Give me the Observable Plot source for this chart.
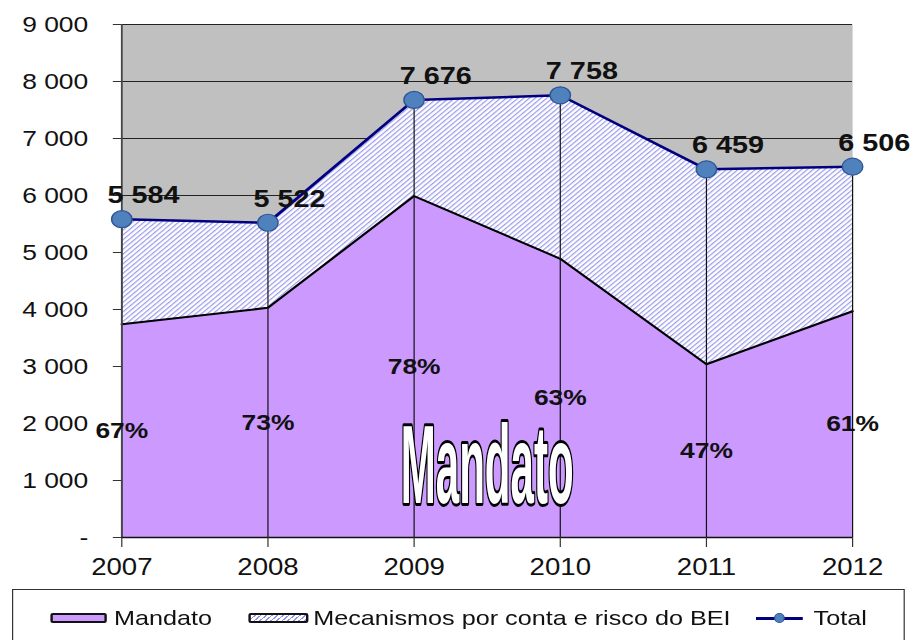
<!DOCTYPE html>
<html>
<head>
<meta charset="utf-8">
<script src="https://cdn.jsdelivr.net/npm/d3@7"></script>
<script src="https://cdn.jsdelivr.net/npm/@observablehq/plot@0.6"></script>
<style>
  html, body { margin: 0; padding: 0; background: #fff; overflow: hidden; }
  #wrap { position: relative; width: 762px; height: 640px; transform: scaleX(1.2); transform-origin: 0 0; font-family: "Liberation Sans", Arial, sans-serif; }
  #legend { position: absolute; left: 10px; top: 589px; width: 744px; height: 70px; border: 1.5px solid #333; box-sizing: border-box; }
  .lg-text { position: absolute; top: 16px; font-size: 21px; color: #111; white-space: nowrap; line-height: 24px; }
  .sw { position: absolute; top: 23px; height: 10px; border: 2px solid #111; border-radius: 2px; box-sizing: border-box; }
</style>
</head>
<body>
<div id="wrap">
  <div id="chart"></div>
  <div id="legend">
    <div class="sw" style="left:31px;width:47px;background:#cc99ff;"></div>
    <div class="lg-text" style="left:84px;">Mandato</div>
    <div class="sw" style="left:196px;width:50px;background:repeating-linear-gradient(135deg,#fff 0 2.2px,#8f8fe8 2.2px 3.3px);"></div>
    <div class="lg-text" style="left:250px;">Mecanismos por conta e risco do BEI</div>
    <div style="position:absolute;left:619px;top:27px;width:39px;height:2.5px;background:#000080;"></div>
    <div style="position:absolute;left:634px;top:23px;width:9px;height:10px;border-radius:50%;background:#4f81bd;border:1px solid #2f5597;box-sizing:border-box;"></div>
    <div class="lg-text" style="left:667px;">Total</div>
  </div>
</div>
<script>
// ---- data ----
const years = [2007, 2008, 2009, 2010, 2011, 2012];
const total = [5584, 5522, 7676, 7758, 6459, 6506];
const mandato = [3740, 4030, 5990, 4890, 3040, 3970];
const mandatoShare = [67, 73, 78, 63, 47, 61];
const yTicks = [0, 1000, 2000, 3000, 4000, 5000, 6000, 7000, 8000, 9000];
const bigLabel = [{text: "Mandato", year: 2009.5, value: 1240}];

const rows = years.map((year, i) => ({
  year, total: total[i], mandato: mandato[i], share: mandatoShare[i]
}));

const fmt = d => d === 0 ? "-" : d3.format(",")(d).replace(/,/g, " ");

const defs = () => {
  const ns = "http://www.w3.org/2000/svg";
  const el = document.createElementNS(ns, "defs");
  el.innerHTML = `<pattern id="hatch" patternUnits="userSpaceOnUse" width="3.4" height="3.4" patternTransform="rotate(45)">
      <rect width="3.4" height="3.4" fill="#ffffff"></rect>
      <line x1="0.6" y1="0" x2="0.6" y2="3.4" stroke="#8f8fe8" stroke-width="1"></line>
    </pattern>`;
  return el;
};

const chart = Plot.plot({
  width: 762,
  height: 586,
  marginLeft: 101,
  marginRight: 52,
  marginTop: 24,
  marginBottom: 49,
  style: {fontFamily: "Liberation Sans, Arial, sans-serif", background: "white", overflow: "visible", color: "#111"},
  x: {type: "linear", domain: [2007, 2012], label: null},
  y: {domain: [0, 9000], label: null},
  marks: [
    defs,
    Plot.frame({fill: "#c0c0c0"}),
    Plot.gridY(yTicks, {stroke: "#222", strokeOpacity: 1, strokeWidth: 1}),
    Plot.areaY(rows, {x: "year", y1: "mandato", y2: "total", fill: "url(#hatch)"}),
    Plot.areaY(rows, {x: "year", y1: 0, y2: "mandato", fill: "#cc99ff"}),
    Plot.lineY(rows, {x: "year", y: "mandato", stroke: "#000", strokeWidth: 2}),
    Plot.ruleX(rows, {x: "year", y1: 0, y2: "total", stroke: "#111", strokeWidth: 1}),
    Plot.ruleX([2007], {y1: 0, y2: 9000, stroke: "#444", strokeWidth: 1.5}),
    Plot.ruleY([0], {stroke: "#111", strokeWidth: 1.5}),
    Plot.axisY({ticks: yTicks, tickFormat: fmt, tickSize: 7, tickPadding: 21, fontSize: 22, stroke: "#333", label: null}),
    Plot.axisX({ticks: years, tickFormat: d => String(d), tickSize: 10, tickPadding: 11, fontSize: 23, stroke: "#333", label: null}),
    Plot.text(rows, {x: "year", y: d => d.mandato / 2, text: d => d.share + "%", fontSize: 22, fontWeight: "bold", fill: "#111", lineAnchor: "middle"}),
    Plot.text(bigLabel, {x: "year", y: "value", text: "text", fontSize: 112, fontWeight: "bold", fontFamily: "Liberation Sans Narrow, Liberation Sans, Arial", fill: "#fff", stroke: "#000", strokeWidth: 6, paintOrder: "stroke", lineAnchor: "middle"}),
    Plot.lineY(rows, {x: "year", y: "total", stroke: "#000080", strokeWidth: 2.5}),
    Plot.dot(rows, {x: "year", y: "total", r: 8.5, fill: "#4f81bd", stroke: "#2f5597", strokeWidth: 1.2}),
    Plot.text(rows, {x: "year", y: "total", text: d => fmt(d.total), fontSize: 24, fontWeight: "bold", fill: "#111", dx: 18, dy: -16, lineAnchor: "bottom"})
  ]
});

document.getElementById("chart").appendChild(chart);

// condense the big "Mandato" annotation to its width in the reference
chart.querySelectorAll("text").forEach(t => {
  if (t.textContent === "Mandato" && t.getBBox().height > 80) {
    const bb = t.getBBox();
    const k = 144 / bb.width;
    const cx = bb.x + bb.width / 2;
    const prev = t.getAttribute("transform") || "";
    t.setAttribute("transform", `${prev} translate(${cx},0) scale(${k},1) translate(${-cx},0)`);
  }
});
</script>
</body>
</html>
